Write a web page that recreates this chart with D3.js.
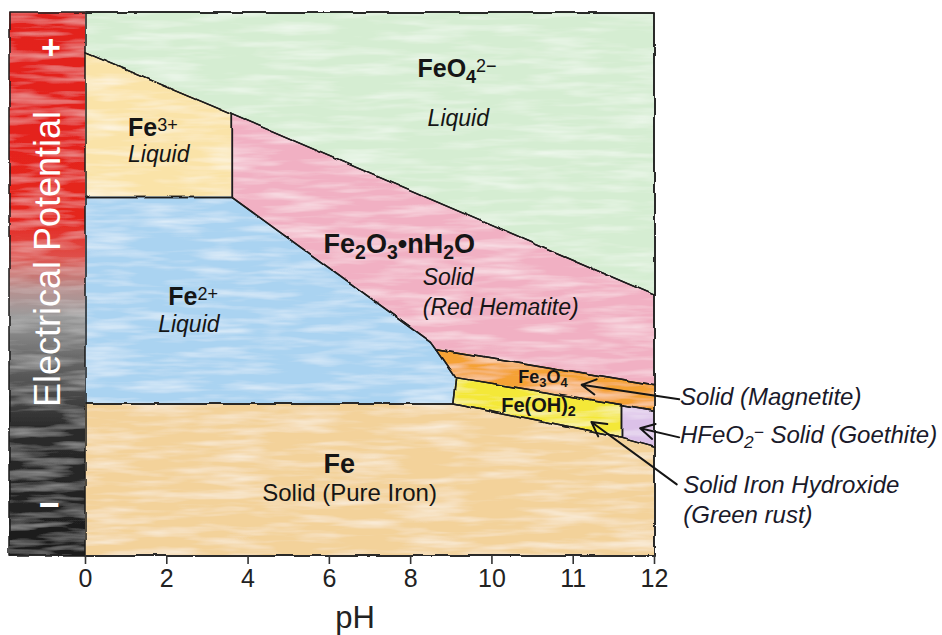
<!DOCTYPE html>
<html>
<head>
<meta charset="utf-8">
<script src="https://cdn.jsdelivr.net/npm/d3@7"></script>
<style>
body { margin: 0; background: #fff; }
text { font-family: "Liberation Sans", Arial, Helvetica, sans-serif; }
</style>
</head>
<body>
<div id="chart"></div>
<script>
// pH ticks (axis is drawn with equal spacing per tick, 10-11-12 stretched)
var phTicks = [0, 2, 4, 6, 8, 10, 11, 12];
var potentialRange = [-1.2, 1.8];   // relative electrical potential (V)

// stability regions, as [pH, potential] outlines
var feo4Region     = [[0,1.8],[12,1.8],[12,0.24],[3.6,1.24],[0,1.58]];
var fe3Region      = [[0,1.58],[3.6,1.24],[3.6,0.78],[0,0.78]];
var hematiteRegion = [[3.6,1.24],[12,0.24],[12,-0.26],[10.4,-0.14],[8.63,-0.06],[8.5,-0.02],[3.6,0.78]];
var fe2Region      = [[0,0.78],[3.6,0.78],[8.5,-0.02],[8.63,-0.06],[9.12,-0.22],[9.05,-0.36],[0,-0.36]];
var magnetiteRegion= [[8.63,-0.06],[10.4,-0.14],[12,-0.26],[12,-0.40],[11.6,-0.37],[9.12,-0.22]];
var hydroxideRegion= [[9.12,-0.22],[11.6,-0.37],[11.6,-0.55],[9.05,-0.36]];
var goethiteRegion = [[11.6,-0.37],[12,-0.40],[12,-0.60],[11.6,-0.55]];
var ironRegion     = [[0,-0.36],[9.05,-0.36],[11.6,-0.55],[12,-0.60],[12,-1.2],[0,-1.2]];

var regionShapes = [feo4Region, fe3Region, hematiteRegion, fe2Region, magnetiteRegion, hydroxideRegion, goethiteRegion, ironRegion];
var regionColors = ['#d5edd2', '#fae3a8', '#f1b0c3', '#aad3f1', '#f5a236', '#f4e838', '#dbc1e8', '#f3d29a'];

// region labels: [text, pH, potential, size, style]
var regionLabels = [
    ['FeO_4^{2−}', 8.18, 1.44, 25, 'bold'],
    ['Liquid', 8.43, 1.17, 23, 'italic'],
    ['Fe^{3+}', 1.06, 1.115, 25, 'bold'],
    ['Liquid', 1.06, 0.97, 23, 'italic'],
    ['Fe^{2+}', 2.05, 0.18, 25, 'bold'],
    ['Liquid', 1.80, 0.03, 23, 'italic'],
    ['Fe_2O_3•nH_2O', 5.87, 0.47, 27, 'bold'],
    ['Solid', 8.31, 0.29, 23, 'italic'],
    ['(Red Hematite)', 8.31, 0.126, 23, 'italic'],
    ['Fe_3O_4', 10.33, -0.25, 18, 'bold'],
    ['Fe(OH)_2', 10.12, -0.41, 20, 'bold'],
    ['Fe', 5.87, -0.747, 27, 'bold'],
    ['Solid (Pure Iron)', 4.36, -0.90, 24, 'normal']
];

// side notes: arrow tip, arrow tail, text lines with [pH, potential]
var noteTips  = [[11.11,-0.26], [11.83,-0.50], [11.23,-0.465]];
var noteTails = [[12.31,-0.34], [12.31,-0.55], [12.28,-0.81]];
var noteTexts = [
    ['Solid (Magnetite)', 12.32, -0.371],
    ['HFeO_2^− Solid (Goethite)', 12.32, -0.581],
    ['Solid Iron Hydroxide', 12.36, -0.857],
    ['(Green rust)', 12.36, -1.023]
];

(function drawDiagram() {
    var width = 942, height = 635;
    var plotLeft = 85, plotRight = 654, plotTop = 12, plotBottom = 555;

    var svg = d3.select('#chart').append('svg')
        .attr('width', width)
        .attr('height', height);

    var x = d3.scaleLinear()
        .domain(phTicks)
        .range(phTicks.map(function(d, i) { return plotLeft + i * (plotRight - plotLeft) / (phTicks.length - 1); }));
    var y = d3.scaleLinear()
        .domain(potentialRange)
        .range([plotBottom, plotTop]);

    var defs = svg.append('defs');

    // coloured pencil texture
    function texture(id, strength, seed) {
        var f = defs.append('filter').attr('id', id)
            .attr('filterUnits', 'userSpaceOnUse')
            .attr('x', 0).attr('y', 0).attr('width', width).attr('height', height);
        f.append('feTurbulence')
            .attr('type', 'fractalNoise')
            .attr('baseFrequency', '0.015 0.12')
            .attr('numOctaves', 3)
            .attr('seed', seed)
            .attr('result', 'n');
        f.append('feColorMatrix')
            .attr('in', 'n')
            .attr('type', 'matrix')
            .attr('values', '0 0 0 0 1  0 0 0 0 1  0 0 0 0 1  ' + strength + ' 0 0 0 ' + (-strength * 0.42))
            .attr('result', 'w');
        f.append('feComposite')
            .attr('in', 'w').attr('in2', 'SourceAlpha')
            .attr('operator', 'in').attr('result', 'wm');
        var merge = f.append('feMerge');
        merge.append('feMergeNode').attr('in', 'SourceGraphic');
        merge.append('feMergeNode').attr('in', 'wm');
    }
    texture('pencil', 1.1, 4);
    texture('pencilBar', 0.6, 9);

    // slight wobble for the ink lines
    var wobble = defs.append('filter').attr('id', 'wobble')
        .attr('filterUnits', 'userSpaceOnUse')
        .attr('x', 0).attr('y', 0).attr('width', width).attr('height', height);
    wobble.append('feTurbulence')
        .attr('type', 'turbulence')
        .attr('baseFrequency', 0.03)
        .attr('numOctaves', 2)
        .attr('result', 't');
    wobble.append('feDisplacementMap')
        .attr('in', 'SourceGraphic').attr('in2', 't')
        .attr('scale', 2.2)
        .attr('xChannelSelector', 'R').attr('yChannelSelector', 'G');

    // potential bar gradient
    var grad = defs.append('linearGradient').attr('id', 'potGrad')
        .attr('x1', 0).attr('y1', 0).attr('x2', 0).attr('y2', 1);
    [[0, '#e3201a'], [0.38, '#e5261f'], [0.45, '#df4f49'], [0.51, '#b79190'],
     [0.56, '#9b9b9b'], [0.64, '#666'], [0.76, '#2c2c2c'], [1, '#1b1b1b']].forEach(function(s) {
        grad.append('stop').attr('offset', s[0]).attr('stop-color', s[1]);
    });

    var line = d3.line()
        .x(function(d) { return x(d[0]); })
        .y(function(d) { return y(d[1]); })
        .curve(d3.curveLinearClosed);

    // fills
    var fills = svg.append('g').attr('filter', 'url(#pencil)');
    fills.selectAll('path')
        .data(regionShapes)
        .enter().append('path')
        .attr('d', line)
        .attr('fill', function(d, i) { return regionColors[i]; });

    svg.append('rect')
        .attr('x', 9).attr('y', plotTop)
        .attr('width', plotLeft - 9).attr('height', plotBottom - plotTop + 1)
        .attr('fill', 'url(#potGrad)')
        .attr('filter', 'url(#pencilBar)');

    // ink
    var ink = svg.append('g').attr('filter', 'url(#wobble)');
    ink.selectAll('path')
        .data(regionShapes)
        .enter().append('path')
        .attr('d', line)
        .attr('fill', 'none')
        .attr('stroke', '#1c1c1c')
        .attr('stroke-width', 1.5)
        .attr('stroke-linejoin', 'round');
    ink.append('rect')
        .attr('x', 9).attr('y', plotTop)
        .attr('width', plotRight - 9).attr('height', plotBottom - plotTop)
        .attr('fill', 'none')
        .attr('stroke', '#1c1c1c')
        .attr('stroke-width', 1.5);

    // axis
    var axis = svg.append('g')
        .attr('transform', 'translate(0,' + plotBottom + ')')
        .call(d3.axisBottom(x).tickValues(phTicks).tickSize(9).tickPadding(5).tickFormat(d3.format('d')));
    axis.select('.domain').remove();
    axis.selectAll('line').attr('stroke', '#333').attr('stroke-width', 1.6);
    axis.selectAll('text')
        .attr('font-size', 25)
        .attr('fill', '#222')
        .style('font-family', '"Liberation Sans", Arial, sans-serif');

    svg.append('text')
        .text('pH')
        .attr('x', 355)
        .attr('y', 628)
        .attr('text-anchor', 'middle')
        .attr('font-size', 31)
        .attr('fill', '#222');

    // potential bar text
    svg.append('text')
        .text('Electrical Potential')
        .attr('transform', 'translate(60,259) rotate(-90)')
        .attr('text-anchor', 'middle')
        .attr('font-size', 36)
        .attr('fill', '#fff');
    svg.append('text')
        .text('+')
        .attr('x', 51).attr('y', 59)
        .attr('text-anchor', 'middle')
        .attr('font-size', 34)
        .attr('font-weight', 'bold')
        .attr('fill', '#fff');
    svg.append('text')
        .text('−')
        .attr('x', 49).attr('y', 517)
        .attr('text-anchor', 'middle')
        .attr('font-size', 36)
        .attr('font-weight', 'bold')
        .attr('fill', '#fff');

    // text with sub / superscripts
    function chem(sel, str, fs) {
        var parts = str.split(/(_\{[^}]*\}|\^\{[^}]*\}|_.|\^.)/).filter(Boolean);
        var shift = 0;
        parts.forEach(function(p) {
            var kind = 'n', t = p;
            if (p[0] === '_' || p[0] === '^') {
                kind = p[0] === '_' ? 'sub' : 'sup';
                t = p.slice(1).replace(/[{}]/g, '');
            }
            var target = kind === 'sub' ? fs * 0.22 : kind === 'sup' ? -fs * 0.2 : 0;
            sel.append('tspan')
                .attr('dy', target - shift)
                .attr('font-size', kind === 'n' ? fs : fs * 0.72)
                .attr('font-weight', kind === 'sup' ? 'normal' : null)
                .text(t);
            shift = target;
        });
    }

    regionLabels.forEach(function(l) {
        var t = svg.append('text')
            .attr('x', x(l[1]))
            .attr('y', y(l[2]))
            .attr('fill', '#151515')
            .attr('font-weight', l[4] === 'bold' ? 'bold' : 'normal')
            .attr('font-style', l[4] === 'italic' ? 'italic' : 'normal');
        chem(t, l[0], l[3]);
    });

    // side notes with arrows
    var arrows = svg.append('g');
    noteTips.forEach(function(tip, i) {
        var tx = x(tip[0]), ty = y(tip[1]);
        var sx = x(noteTails[i][0]), sy = y(noteTails[i][1]);
        var a = Math.atan2(sy - ty, sx - tx);
        var len = 16, spread = 0.5;
        arrows.append('path')
            .attr('d', 'M' + sx + ',' + sy + 'L' + tx + ',' + ty +
                'M' + (tx + len * Math.cos(a - spread)) + ',' + (ty + len * Math.sin(a - spread)) +
                'L' + tx + ',' + ty +
                'L' + (tx + len * Math.cos(a + spread)) + ',' + (ty + len * Math.sin(a + spread)))
            .attr('fill', 'none')
            .attr('stroke', '#151515')
            .attr('stroke-width', 2)
            .attr('stroke-linecap', 'round')
            .attr('stroke-linejoin', 'round');
    });

    noteTexts.forEach(function(n) {
        var t = svg.append('text')
            .attr('x', x(n[1]))
            .attr('y', y(n[2]))
            .attr('fill', '#1a1a2a')
            .attr('font-style', 'italic');
        chem(t, n[0], 24);
    });
})();
</script>
</body>
</html>
